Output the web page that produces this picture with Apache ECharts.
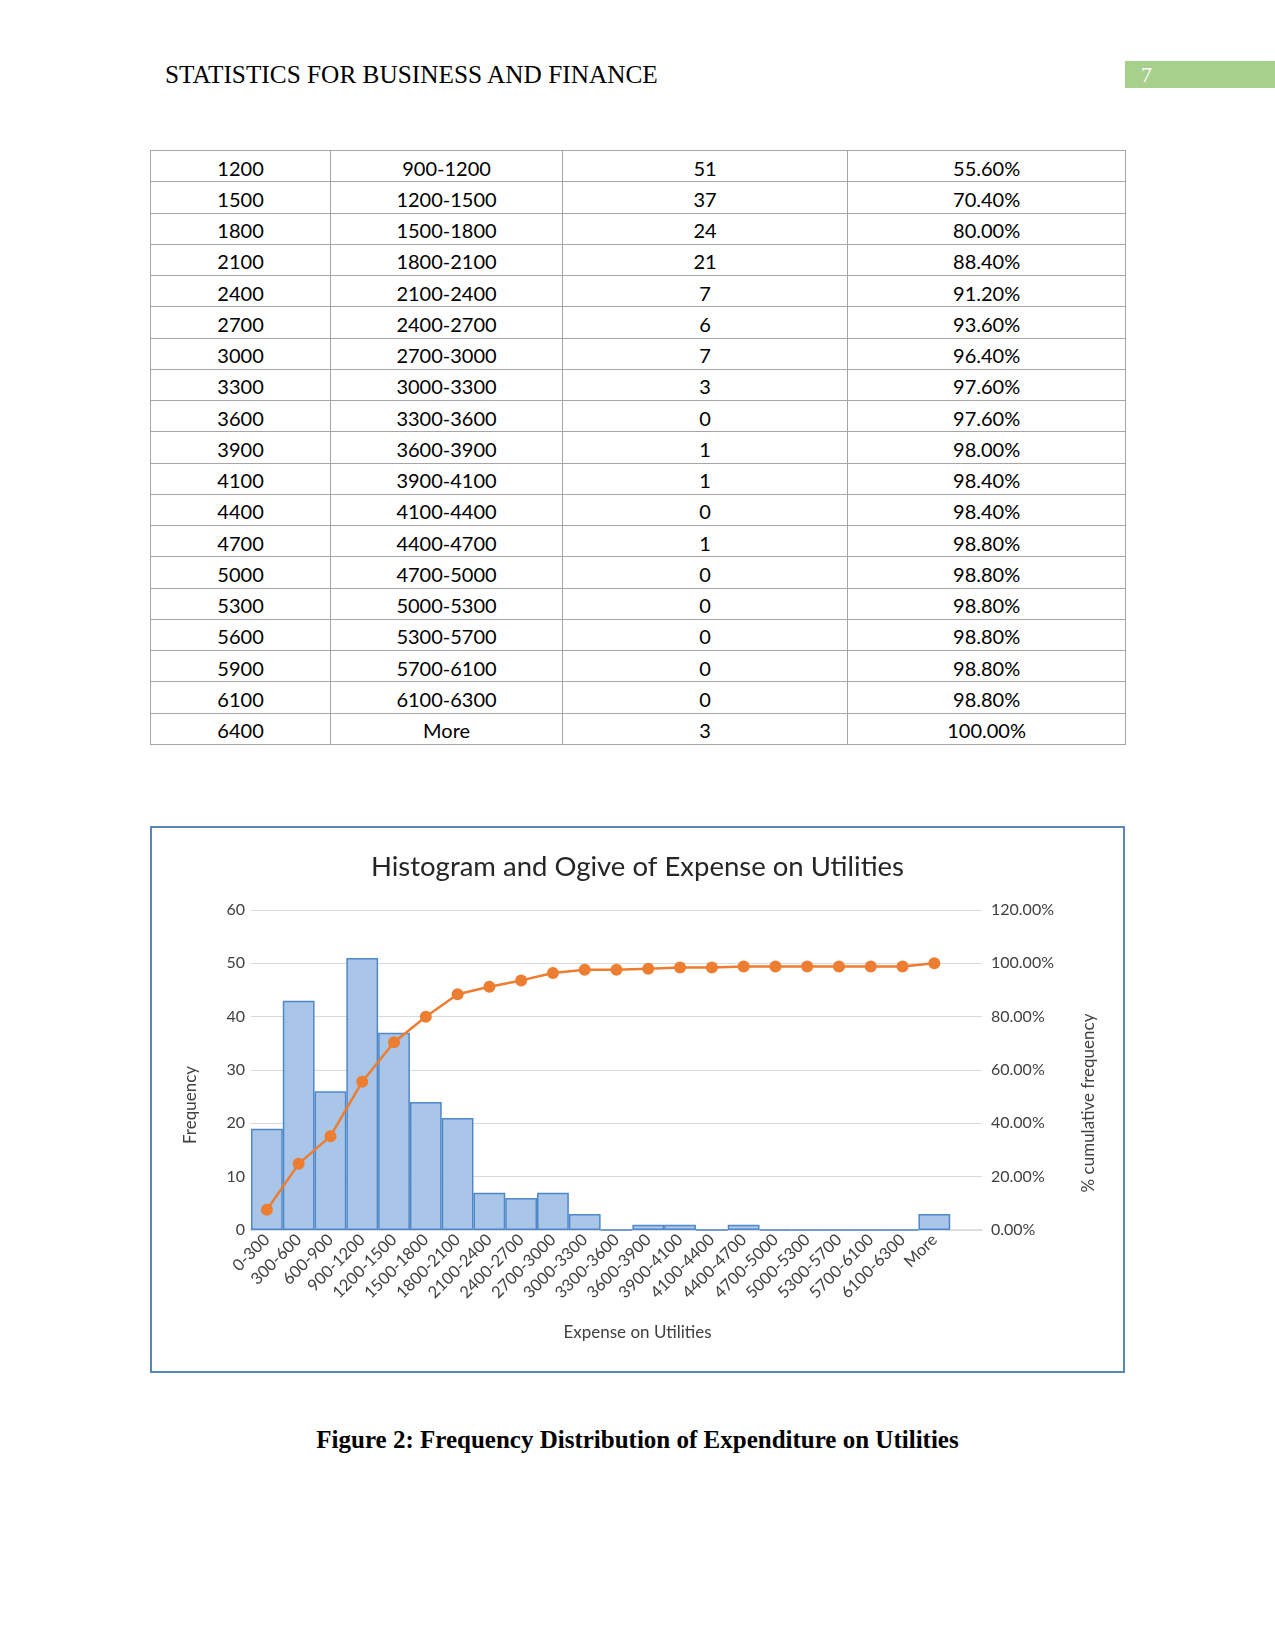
<!DOCTYPE html>
<html>
<head>
<meta charset="utf-8">
<script src="https://cdn.jsdelivr.net/npm/echarts@6/dist/echarts.min.js"></script>
<style>
  html, body { margin: 0; padding: 0; background: #fff; }
  body { width: 1275px; height: 1650px; position: relative; overflow: hidden; }
  #header { position: absolute; left: 165px; top: 60px; font-family: "Liberation Serif", "DejaVu Serif", serif; font-size: 25.3px; color: #000; letter-spacing: 0px; }
  #pagebox { position: absolute; left: 1125px; top: 61px; width: 150px; height: 27px; background: #a8d08d; }
  #pagenum { position: absolute; left: 1141px; top: 62px; font-family: "Liberation Serif", serif; font-size: 22px; color: #fff; }
  #tbl { position: absolute; left: 150px; top: 150px; width: 976px; height: 595px; border-collapse: collapse; font-family: Lato, "Open Sans", sans-serif; font-size: 20px; color: #000; }
  #tbl td { border: 1px solid #a6a6a6; text-align: center; padding: 3px 0 0 0; }
  #chart { position: absolute; left: 150px; top: 826px; width: 975px; height: 547px; box-sizing: border-box; border: 2px solid #5b87b8; }
  #caption { position: absolute; left: 0; width: 1275px; top: 1426px; text-align: center; font-family: "Liberation Serif", serif; font-weight: bold; font-size: 25px; color: #000; }
</style>
</head>
<body>
<div id="header">STATISTICS FOR BUSINESS AND FINANCE</div>
<div id="pagebox"></div>
<div id="pagenum">7</div>
<table id="tbl"></table>
<div id="chart"></div>
<div id="caption">Figure 2: Frequency Distribution of Expenditure on Utilities</div>
<script>
// ---- Table data (continuation rows) ----
const tableBins = ['1200','1500','1800','2100','2400','2700','3000','3300','3600','3900','4100','4400','4700','5000','5300','5600','5900','6100','6400'];
const tableRanges = ['900-1200','1200-1500','1500-1800','1800-2100','2100-2400','2400-2700','2700-3000','3000-3300','3300-3600','3600-3900','3900-4100','4100-4400','4400-4700','4700-5000','5000-5300','5300-5700','5700-6100','6100-6300','More'];
const tableFreq = [51,37,24,21,7,6,7,3,0,1,1,0,1,0,0,0,0,0,3];
const tableCum = ['55.60%','70.40%','80.00%','88.40%','91.20%','93.60%','96.40%','97.60%','97.60%','98.00%','98.40%','98.40%','98.80%','98.80%','98.80%','98.80%','98.80%','98.80%','100.00%'];

// ---- Chart data ----
const categories = ['0-300','300-600','600-900','900-1200','1200-1500','1500-1800','1800-2100','2100-2400','2400-2700','2700-3000','3000-3300','3300-3600','3600-3900','3900-4100','4100-4400','4400-4700','4700-5000','5000-5300','5300-5700','5700-6100','6100-6300','More',''];
const frequency = [19,43,26,51,37,24,21,7,6,7,3,0,1,1,0,1,0,0,0,0,0,3,null];
const cumulativePct = [7.6,24.8,35.2,55.6,70.4,80.0,88.4,91.2,93.6,96.4,97.6,97.6,98.0,98.4,98.4,98.8,98.8,98.8,98.8,98.8,98.8,100.0,null];
const freqTicks = {min: 0, max: 60, interval: 10};
const pctTicks = {min: 0, max: 120, interval: 20};

// build table
const tbl = document.getElementById('tbl');
const widths = [180, 232, 286, 278];
let html = '';
for (let i = 0; i < tableBins.length; i++) {
  const cells = [tableBins[i], tableRanges[i], tableFreq[i], tableCum[i]];
  html += '<tr>' + cells.map((c, j) => '<td style="width:' + widths[j] + 'px">' + c + '</td>').join('') + '</tr>';
}
tbl.innerHTML = html;

// chart
const chart = echarts.init(document.getElementById('chart'), null, {renderer: 'canvas'});
const font = 'Lato, "Open Sans", sans-serif';
chart.setOption({
  animation: false,
  title: {
    text: 'Histogram and Ogive of Expense on Utilities',
    left: 'center', top: 20,
    textStyle: {fontFamily: font, fontSize: 27.5, fontWeight: 'normal', color: '#262626'}
  },
  grid: {left: 99, right: 141, top: 82, bottom: 141, containLabel: false},
  xAxis: {
    type: 'category',
    data: categories,
    boundaryGap: true,
    axisLine: {lineStyle: {color: '#d9d9d9', width: 1.5}},
    axisTick: {show: false},
    axisLabel: {rotate: 45, fontFamily: font, fontSize: 16.5, color: '#404040', interval: 0, margin: 7}
  },
  yAxis: [
    {
      type: 'value', min: freqTicks.min, max: freqTicks.max, interval: freqTicks.interval,
      axisLine: {show: false}, axisTick: {show: false},
      axisLabel: {fontFamily: font, fontSize: 16, color: '#404040', margin: 6},
      splitLine: {lineStyle: {color: '#d9d9d9', width: 1.2}}
    },
    {
      type: 'value', min: pctTicks.min, max: pctTicks.max, interval: pctTicks.interval,
      axisLine: {show: false}, axisTick: {show: false},
      axisLabel: {fontFamily: font, fontSize: 16, color: '#404040', margin: 9, formatter: v => v.toFixed(2) + '%'},
      splitLine: {show: false}
    }
  ],
  series: [
    {
      type: 'bar', data: frequency, yAxisIndex: 0,
      barCategoryGap: '0%',
      itemStyle: {color: '#a9c5e8', borderColor: '#4f88c9', borderWidth: 1.5}
    },
    {
      type: 'line', data: cumulativePct, yAxisIndex: 1,
      symbol: 'circle', symbolSize: 12,
      lineStyle: {color: '#ed7d31', width: 2.5},
      itemStyle: {color: '#ed7d31'}
    }
  ],
  graphic: [
    {
      type: 'text', left: 'center', top: 496,
      style: {text: 'Expense on Utilities', font: '17px ' + font, fill: '#404040'}
    },
    {
      type: 'text', x: 39, y: 277, rotation: Math.PI / 2,
      style: {text: 'Frequency', font: '17px ' + font, fill: '#404040', align: 'center', verticalAlign: 'middle'}
    },
    {
      type: 'text', x: 937, y: 275, rotation: Math.PI / 2,
      style: {text: '% cumulative frequency', font: '17px ' + font, fill: '#404040', align: 'center', verticalAlign: 'middle'}
    }
  ]
});
</script>
</body>
</html>
